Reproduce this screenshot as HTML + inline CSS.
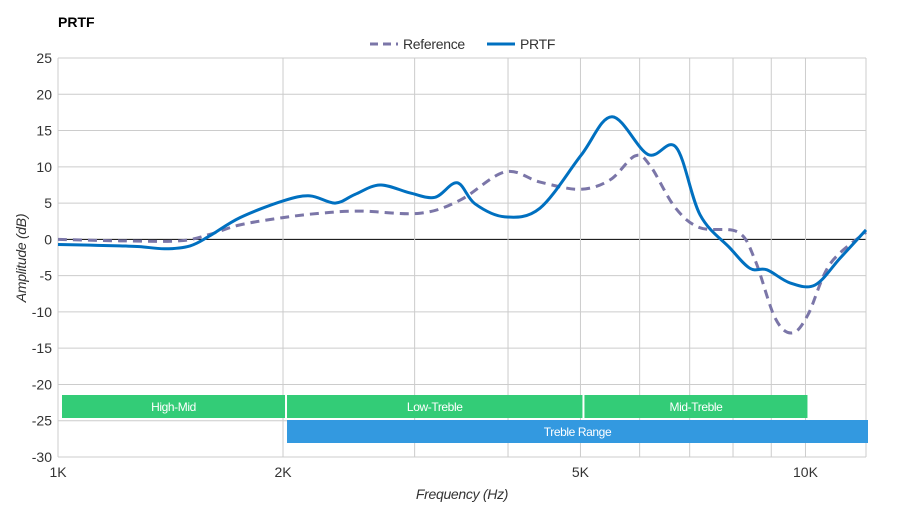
<!DOCTYPE html>
<html><head><meta charset="utf-8"><style>
body{margin:0;background:#fff;font-family:"Liberation Sans",sans-serif}
svg text{font-family:"Liberation Sans",sans-serif}
</style></head><body>
<svg id="c" width="900" height="520">
<text x="58" y="27" font-size="14" font-weight="bold" fill="#000">PRTF</text>
<g>
<line x1="370" y1="44" x2="398" y2="44" stroke="#7b76a8" stroke-width="3" stroke-dasharray="8,5"/>
<text x="403" y="49" font-size="14" fill="#333" letter-spacing="-0.3">Reference</text>
<line x1="487" y1="44" x2="515" y2="44" stroke="#0070c0" stroke-width="3"/>
<text x="520" y="49" font-size="14" fill="#333" letter-spacing="-0.3">PRTF</text>
</g>
<g id="grid"></g><g id="bands"></g><g id="axes"></g><g id="series"></g>
<text x="462" y="499" font-size="14" font-style="italic" text-anchor="middle" fill="#333" letter-spacing="-0.3">Frequency (Hz)</text>
<text transform="translate(26,258) rotate(-90)" font-size="14" font-style="italic" text-anchor="middle" fill="#333" letter-spacing="-0.3">Amplitude (dB)</text>
</svg>
<script>
const yTicks=[25,20,15,10,5,0,-5,-10,-15,-20,-25,-30];
const xGrid=[1000,2000,3000,4000,5000,6000,7000,8000,9000,10000];
const xLabels=[[1000,"1K"],[2000,"2K"],[5000,"5K"],[10000,"10K"]];
const prtfF=[1000,1104,1210,1287,1390,1502,1597,1752,2000,2173,2348,2497,2697,2958,3194,3419,3613,3963,4414,5010,5510,6157,6712,7226,7925,8430,8882,9535,10297,11123,12050];
const prtfV=[-0.7,-0.8,-0.9,-1,-1.3,-0.9,0.5,3,5.3,6,5,6.2,7.5,6.4,5.8,7.8,4.9,3.1,4.3,11.6,16.9,11.7,12.7,3.4,-1.2,-4,-4.2,-6,-6.3,-2.6,1.3];
const refF=[1000,1210,1456,1597,1752,2000,2241,2535,3050,3450,3963,4414,4994,5477,5915,6194,6692,7226,8122,8558,9103,9594,10076,10785,12050];
const refV=[0,-0.2,-0.2,0.7,2,3,3.6,3.9,3.6,5.4,9.3,7.9,6.9,8.2,11.5,10.2,4.4,1.6,1,-2.8,-10.8,-12.9,-10.4,-3.4,1];
const bandNames=["High-Mid","Low-Treble","Mid-Treble","Treble Range"];
const bandStart=[1000,2000,5000,2000];
const bandEnd=[2000,5000,10000,12050];
const bandRow=[0,0,0,1];
const L=58,R=866,T=58,B=457,FMIN=1000,FMAX=12050,VMIN=-30,VMAX=25;
const X=f=>L+(Math.log10(f/FMIN))/Math.log10(FMAX/FMIN)*(R-L);
const Y=v=>T+(VMAX-v)/(VMAX-VMIN)*(B-T);
const NS="http://www.w3.org/2000/svg";
function mk(p,t,a){const e=document.createElementNS(NS,t);for(const k in a)e.setAttribute(k,a[k]);p.appendChild(e);return e;}
const g=document.getElementById('grid'),ax=document.getElementById('axes'),bd=document.getElementById('bands'),se=document.getElementById('series');
yTicks.forEach(v=>{const l=mk(g,'line',{x1:L,x2:R,y1:Y(v),y2:Y(v),stroke:v===0?'#000':'#ccc','stroke-width':1});


const t=mk(ax,'text',{x:52,y:Y(v)+5,'font-size':14,'text-anchor':'end',fill:'#333'});t.textContent=v;

});
xGrid.concat([FMAX]).forEach(f=>{const l=mk(g,'line',{x1:X(f),x2:X(f),y1:T,y2:B,stroke:'#ccc','stroke-width':1});

});
xLabels.forEach(([f,s])=>{const t=mk(ax,'text',{x:X(f),y:477,'font-size':14,'text-anchor':'middle',fill:'#333'});t.textContent=s;

});
bandNames.forEach((n,i)=>{const x1=X(bandStart[i])+4,x2=X(bandEnd[i])+2,y=395+bandRow[i]*25;
const r=mk(bd,'rect',{x:x1,y:y,width:x2-x1,height:23,fill:bandRow[i]?'#3399e0':'#33cc77'});


const t=mk(bd,'text',{x:(x1+x2)/2,y:y+16,'font-size':12,'text-anchor':'middle',fill:'#fff','letter-spacing':'-0.4'});t.textContent=n;

});
function path(F,V){const p=F.map((f,i)=>[X(f),Y(V[i])]);let d='M'+p[0][0]+','+p[0][1];
for(let i=0;i<p.length-1;i++){const p0=p[Math.max(0,i-1)],p1=p[i],p2=p[i+1],p3=p[Math.min(p.length-1,i+2)];
d+=' C'+(p1[0]+(p2[0]-p0[0])/6)+','+(p1[1]+(p2[1]-p0[1])/6)+' '+(p2[0]-(p3[0]-p1[0])/6)+','+(p2[1]-(p3[1]-p1[1])/6)+' '+p2[0]+','+p2[1];}return d;}
const r=mk(se,'path',{d:path(refF,refV),fill:'none',stroke:'#7b76a8','stroke-width':3,'stroke-dasharray':'9,6'});


const p=mk(se,'path',{d:path(prtfF,prtfV),fill:'none',stroke:'#0070c0','stroke-width':3});


</script>
</body></html>
